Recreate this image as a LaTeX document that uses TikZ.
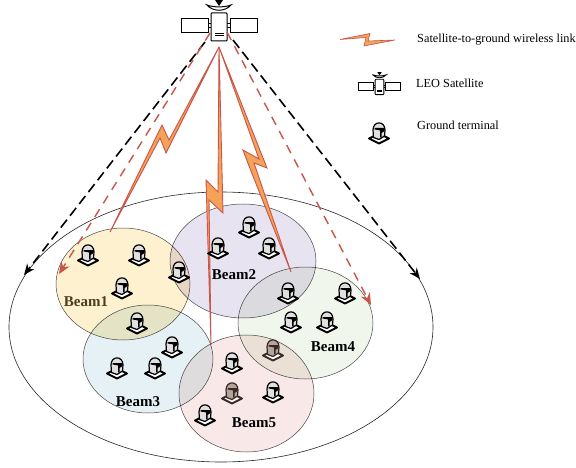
\documentclass[tikz,border=0pt]{standalone}
\usepackage{fontspec}
\setmainfont{Liberation Serif}
\usetikzlibrary{shapes.geometric,arrows.meta}
\definecolor{boltfill}{HTML}{F4A25A}
\definecolor{boltline}{HTML}{C9564A}
\definecolor{dashred}{HTML}{C8554B}
\definecolor{tintline}{HTML}{3A2A26}
\definecolor{tintdome}{HTML}{B5A49C}
\definecolor{lab1col}{HTML}{4B3D1F}
\tikzset{
  beam/.style={ellipse,draw=black!70,line width=.5pt,inner sep=0pt},
  bolt/.style={fill=boltfill,draw=boltline,line width=.9pt,line join=miter},
  blackarrow/.style={black,line width=1.6pt,dash pattern=on 10pt off 5pt,-{Stealth[length=11pt,width=9pt]}},
  redarrow/.style={dashred,line width=1.4pt,dash pattern=on 9pt off 7pt,-{Stealth[length=12pt,width=10pt]}},
  legend/.style={anchor=west,font=\fontsize{12.3}{14}\selectfont,inner sep=0pt},
  beamlabel/.style={font=\fontsize{15}{17}\selectfont\bfseries,inner sep=0pt},
}
% terminal icon: #1 outline colour, #2 dome colour, (#3,#4) centre
\newcommand{\terminalicon}[4]{%
  \begin{scope}[shift={(#3,#4)}]
    \draw[fill=white,draw=#1,line width=1.9pt,line join=round] (-10,5.5) -- (0,0.5) -- (10,5.5) -- (0,10.5) -- cycle;
    \draw[fill=#2,draw=#1,line width=1.2pt] (-5.5,4.5) -- (-6,-3) .. controls (-6,-12.5) and (6,-12.5) .. (6,-3) -- (5.5,3) -- (0,6.5) -- cycle;
    \fill[#1] (-4.5,-5) -- (5.5,-5) -- (5.5,-2) -- (2.5,0) -- (2.5,4) -- (1,4.5) -- (1,-2.5) -- (-1,-3) -- (-4.5,-3.5) -- cycle;
  \end{scope}}
% satellite icon
\newcommand{\satbody}[4]{%
  \begin{scope}[shift={(#1,#2)},scale=#3,line width=#4]
    \draw[fill=white] (-38,-8) rectangle (-11,6);
    \draw[fill=white] (11,-8) rectangle (38,6);
    \draw (-11,-3) -- (-8,-3) (-11,1) -- (-8,1) (8,-3) -- (11,-3) (8,1) -- (11,1);
    \draw[fill=white,rounded corners=.8pt] (-8,-14) rectangle (8,14);
    \draw[line width=.8pt] (-4,6.5) -- (5,6.5) (-4,8.5) -- (5,8.5);
    \draw[fill=white] (-12,-22) .. controls (-6,-15) and (6,-15) .. (12,-22) .. controls (6,-19.5) and (-6,-19.5) .. cycle;
    \fill (-4,-27) -- (4,-27) -- (0,-21) -- cycle;
  \end{scope}}
\begin{document}
\begin{tikzpicture}[x=1pt,y=-1pt]
\useasboundingbox (0,0) rectangle (576,468);
\fill[white] (0,0) rectangle (576,468);
% coverage area and beams
\node[beam,minimum width=424pt,minimum height=270pt,line width=.6pt,draw=black!85] (area) at (221,327) {};
\begin{scope}[blend mode=multiply]
\node[beam,fill={rgb,255:red,253;green,241;blue,207},minimum width=134pt,minimum height=112pt] (beam1) at (123,284) {};
\node[beam,fill={rgb,255:red,232;green,227;blue,241},minimum width=146pt,minimum height=114pt] (beam2) at (243,261) {};
\node[beam,fill={rgb,255:red,230;green,241;blue,245},minimum width=130pt,minimum height=108pt] (beam3) at (148,359) {};
\node[beam,fill={rgb,255:red,241;green,246;blue,236},minimum width=135pt,minimum height=112pt] (beam4) at (305.5,323) {};
\node[beam,fill={rgb,255:red,248;green,233;blue,232},minimum width=135pt,minimum height=117pt] (beam5) at (246.5,393.5) {};
\end{scope}
% satellite
\satbody{219}{27}{1}{1pt}
\coordinate (satBL) at (205,42);
\coordinate (satBR) at (233,40);
\coordinate (satRL) at (210,33);
\coordinate (satRR) at (227,32);
\coordinate (tipBL) at (24,275);
\coordinate (tipBR) at (420,279);
\coordinate (tipRL) at (59,274);
\coordinate (tipRR) at (371,305);
\draw[blackarrow] (satBL) -- (tipBL);
\draw[blackarrow] (satBR) -- (tipBR);
\draw[redarrow] (satRL) -- (tipRL);
\draw[redarrow] (satRR) -- (tipRR);
% wireless links
\coordinate (apex) at (219,47);
\draw[bolt] (apex) -- (166,153) -- (160,138) -- (110,232) -- (162,125) -- (169,140) -- cycle;
\draw[bolt] (apex) -- (223,213) -- (209,200) -- (211,345) -- (206,180) -- (218,192) -- cycle;
\draw[bolt] (apex) -- (267,168) -- (254,163) -- (291,272) -- (249,166) -- (243,150) -- (259,159) -- cycle;
% terminals
\foreach \x/\y in {88/255,139/255,122/288,179/272,137/323,218/248,249/227,269/248,172/347,155/368,117/368,288/293,345/293,291/322,327/322,232/363,273/392,205/415}
  {\terminalicon{black}{black!12}{\x}{\y}}
\terminalicon{tintline}{tintdome}{273}{350}
\terminalicon{tintline}{tintdome}{232}{393}
% beam labels
\node[beamlabel,text=lab1col] (lab1) at (86,302) {Beam1};
\node[beamlabel] (lab2) at (234,275) {Beam2};
\node[beamlabel] (lab3) at (138,402) {Beam3};
\node[beamlabel] (lab4) at (333,347) {Beam4};
\node[beamlabel] (lab5) at (254,423) {Beam5};
% legend
\draw[bolt,line width=.6pt] (340,39.5) -- (370,33.5) -- (368,41) -- (395,40) -- (364,46) -- (366,37.5) -- cycle;
\node[legend] (legLink) at (417,40) {Satellite-to-ground wireless link};
\satbody{379.5}{87}{.55}{.9pt}
\node[legend] (legSat) at (416,83) {LEO Satellite};
\terminalicon{black}{black!12}{379}{133}
\node[legend] (legTerm) at (417,125) {Ground terminal};
\end{tikzpicture}
\end{document}
